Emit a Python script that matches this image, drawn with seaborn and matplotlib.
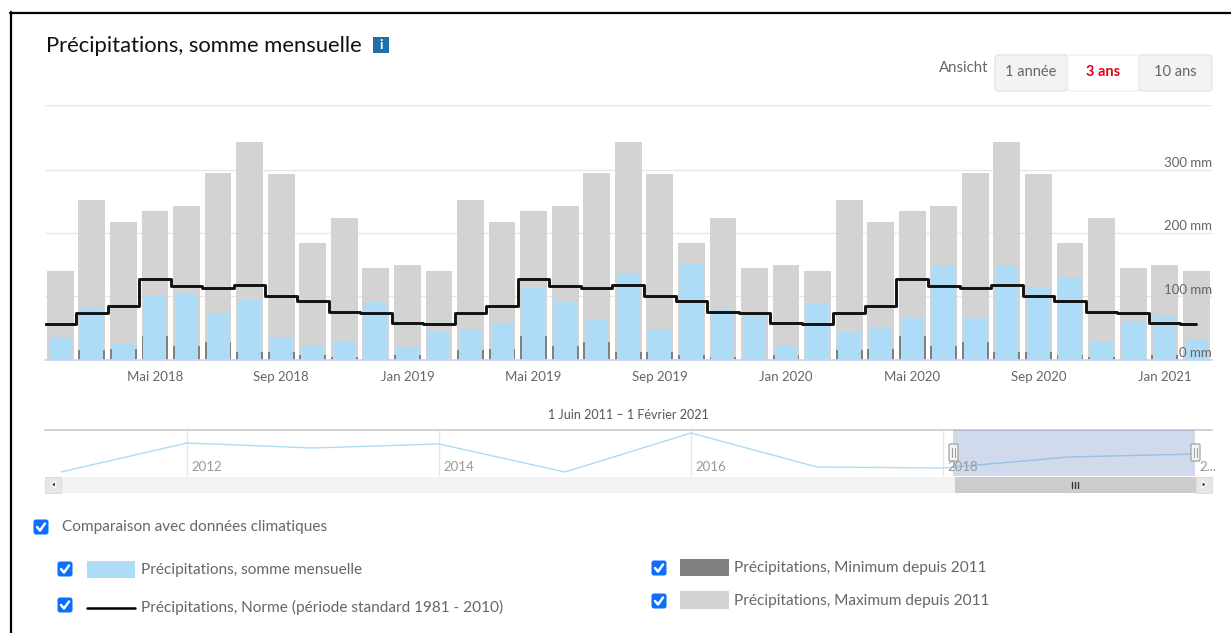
import numpy as np
import pandas as pd
import matplotlib
matplotlib.use("Agg")
import matplotlib.pyplot as plt
import seaborn as sns
from matplotlib.patches import FancyBboxPatch, Rectangle, Polygon

# monthly values, Feb 2018 - Feb 2021 (mm)
months = [d.strftime("%Y-%m") for d in pd.date_range("2018-02-01", periods=37, freq="MS")]
sums = [34, 83, 24, 101, 105, 72, 94, 35, 21, 30, 91, 19,
        44, 48, 57, 113, 91, 63, 135, 48, 152, 78, 70, 22,
        88, 43, 52, 66, 148, 65, 149, 114, 131, 30, 59, 70, 32]
# climate values repeat each year, Feb to Jan
max_year = [140, 252, 217, 234, 243, 295, 343, 293, 184, 223, 144, 149]
min_year = [0, 15, 17, 37, 22, 28, 11.5, 11.5, 7, 4, 1.5, 7]
norm_year = [56, 73, 84, 127, 116, 113, 118, 100, 92, 75, 73, 58]

tick_pos = [3, 7, 11, 15, 19, 23, 27, 31, 35]
tick_labels = ["Mai 2018", "Sep 2018", "Jan 2019", "Mai 2019", "Sep 2019",
               "Jan 2020", "Mai 2020", "Sep 2020", "Jan 2021"]
y_ticks = [0, 100, 200, 300]

nav_years = [2011, 2012, 2013, 2014, 2015, 2016, 2017, 2018, 2019, 2020]
nav_values = [4, 33, 28, 32, 4, 43, 9, 8, 19, 22]
nav_ticks = [2012, 2014, 2016, 2018]

BLUE = "#aedbf6"
GREY = "#d3d3d3"
DARK = "#808080"
TEXT = "#666666"
CHECK = "#0d6efd"

W, H = 1231, 633

sns.set_theme(style="white")
plt.rcParams["font.family"] = ["Lato", "DejaVu Sans"]


def repeat_year(values):
    return [values[i % 12] for i in range(len(months))]


df = pd.DataFrame({"month": months, "sum": sums,
                   "max": repeat_year(max_year),
                   "min": repeat_year(min_year),
                   "norm": repeat_year(norm_year)})

fig = plt.figure(figsize=(W / 100, H / 100), dpi=100, facecolor="white")


def px_axes(left, top, right, bottom):
    return fig.add_axes([left / W, 1 - bottom / H, (right - left) / W, (bottom - top) / H])


# main chart
ax = px_axes(45, 104.5, 1212, 359.5)
sns.barplot(data=df, x="month", y="max", color=GREY, saturation=1, width=0.85, linewidth=0, ax=ax)
sns.barplot(data=df, x="month", y="min", color=DARK, saturation=1, width=0.85, linewidth=0, ax=ax)
sns.barplot(data=df, x="month", y="sum", color=BLUE, saturation=1, width=0.73, linewidth=0, ax=ax)

# the step line starts at the left edge of the plot
line_x = np.r_[-0.5, np.arange(len(months))]
line_y = np.r_[df["norm"].iloc[0], df["norm"]]
sns.lineplot(x=line_x, y=line_y, color="#111111", lw=2.1, drawstyle="steps-mid",
             estimator=None, sort=False, ax=ax)

ax.set_xlim(-0.485, 36.5)
ax.set_ylim(0, 403)
ax.set_xlabel("")
ax.set_ylabel("")
ax.set_yticks([100, 200, 300, 403])
ax.set_yticklabels([])
ax.grid(axis="y", color="#e6e6e6", lw=1)
ax.set_axisbelow(True)
ax.set_xticks(tick_pos)
ax.set_xticklabels(tick_labels, fontsize=9.5, color=TEXT)
ax.tick_params(axis="x", length=0, pad=8)
ax.tick_params(axis="y", length=0)
sns.despine(ax=ax, left=True, top=True, right=True)
ax.spines["bottom"].set_color("#ccd6eb")
for v in y_ticks:
    ax.annotate(f"{v} mm", (1, v), xycoords=ax.get_yaxis_transform(), xytext=(0, 0.5),
                textcoords="offset points", ha="right", va="bottom",
                fontsize=9.5, color=TEXT, zorder=10)

# navigator
nav = px_axes(45, 430, 1212, 476)
sns.lineplot(x=nav_years, y=nav_values, color=BLUE, lw=1, ax=nav, zorder=2)
nav.axvspan(2018.08, 2020.0, color="#6685c2", alpha=0.3, lw=0, zorder=3)
nav.set_xlim(2011 - 16 / 126, 2020 + 17 / 126)
nav.set_ylim(0, 46)
nav.set_xlabel("")
nav.set_ylabel("")
nav.set_yticks([])
nav.set_xticks(nav_ticks)
nav.set_xticklabels([])
nav.tick_params(axis="x", length=0)
nav.grid(axis="x", color="#e6e6e6", lw=1)
nav.set_axisbelow(True)
for s in ["left", "right", "bottom"]:
    nav.spines[s].set_visible(False)
nav.spines["top"].set_color("#cccccc")
for y in nav_ticks:
    nav.annotate(str(y), (y, 0), xycoords=nav.get_xaxis_transform(), xytext=(3, 6.5),
                 textcoords="offset points", ha="left", va="center",
                 fontsize=9.5, color="#999999", zorder=5)
nav.annotate("2...", (2020, 0), xycoords=nav.get_xaxis_transform(), xytext=(3, 6.5),
             textcoords="offset points", ha="left", va="center",
             fontsize=9.5, color="#999999", annotation_clip=False)

# page furniture, in pixel coordinates
ui = fig.add_axes([0, 0, 1, 1], zorder=5)
ui.set_xlim(0, W)
ui.set_ylim(H, 0)
ui.axis("off")
ui.patch.set_alpha(0)


def box(x0, y0, x1, y1, color, edge="none", lw=0, round=0.0, z=3):
    if round:
        ui.add_patch(FancyBboxPatch((x0 + round, y0 + round), x1 - x0 - 2 * round, y1 - y0 - 2 * round,
                                    boxstyle=f"round,pad={round},rounding_size={round}",
                                    fc=color, ec=edge, lw=lw, zorder=z))
    else:
        ui.add_patch(Rectangle((x0, y0), x1 - x0, y1 - y0, fc=color, ec=edge, lw=lw, zorder=z))


def checkbox(cx, cy):
    box(cx - 7.5, cy - 7.5, cx + 7.5, cy + 7.5, CHECK, round=2.5)
    ui.plot([cx - 4, cx - 1, cx + 4], [cy, cy + 3.5, cy - 3.5], color="white", lw=1.8, zorder=4)


def label(x, y, s, size=11.1, color=TEXT, ha="left", **kw):
    ui.text(x, y, s, fontsize=size, color=color, ha=ha, va="center", zorder=6, **kw)


# outer frame
ui.plot([11, 11], [H, 12], color="black", lw=1.6, zorder=8)
ui.plot([10, W], [12.5, 12.5], color="black", lw=1.6, zorder=8)

# title
label(46, 46, "Précipitations, somme mensuelle", size=15.85, color="#111111")
box(373, 37, 389, 53, "#1f6fa8")
label(381, 45, "i", size=10, color="white", ha="center", fontweight="bold")

# range buttons
label(939, 68.5, "Ansicht", size=10.8)
box(995, 55, 1067.5, 91, "#f3f3f3", edge="#e0e0e0", lw=0.8, round=3)
box(1139, 55, 1212, 91, "#f3f3f3", edge="#e0e0e0", lw=0.8, round=3)
box(1067.5, 55, 1139, 91, "white", edge="#ececec", lw=0.8, round=3)
label(1031, 71.5, "1 année", size=10.5, ha="center")
label(1103, 71.5, "3 ans", size=10.5, color="#e2001a", ha="center", fontweight="bold")
label(1175.5, 71.5, "10 ans", size=10.5, ha="center")

label(628.5, 415, "1 Juin 2011 – 1 Février 2021", size=9, color="#555555", ha="center")

# scrollbar under the navigator
box(45, 476.5, 1212, 492.5, "#f2f2f2")
box(45, 476.5, 61, 492.5, "#e6e6e6", edge="#d8d8d8", lw=0.6)
box(1196, 476.5, 1212, 492.5, "#e6e6e6", edge="#d8d8d8", lw=0.6)
box(955, 476.5, 1196, 492.5, "#cccccc")
ui.add_patch(Polygon([[55.5, 481], [55.5, 488], [51, 484.5]], fc="#333333", zorder=4))
ui.add_patch(Polygon([[1202, 481], [1202, 488], [1206.5, 484.5]], fc="#333333", zorder=4))
for x in (1072, 1075, 1078):
    ui.plot([x, x], [481.5, 487.5], color="#333333", lw=1, zorder=4)
for x in (953.5, 1195.5):
    box(x - 4.5, 444, x + 4.5, 461, "#f2f2f2", edge="#999999", lw=0.8, round=1)
    ui.plot([x - 1.2, x - 1.2], [448, 457], color="#999999", lw=0.7, zorder=4)
    ui.plot([x + 1.2, x + 1.2], [448, 457], color="#999999", lw=0.7, zorder=4)

# legend
checkbox(41, 527)
label(62, 527, "Comparaison avec données climatiques")
checkbox(65, 569)
box(87, 561, 135, 578, BLUE)
label(141, 570, "Précipitations, somme mensuelle")
checkbox(65, 605)
ui.plot([87, 135], [608, 608], color="black", lw=1.8, zorder=4)
label(141, 607, "Précipitations, Norme (période standard 1981 - 2010)")
checkbox(659, 568)
box(680, 559, 729, 576, DARK)
label(734, 568, "Précipitations, Minimum depuis 2011")
checkbox(659, 601)
box(680, 591, 729, 609, GREY)
label(734, 601, "Précipitations, Maximum depuis 2011")

fig.savefig("out.png", dpi=100)
